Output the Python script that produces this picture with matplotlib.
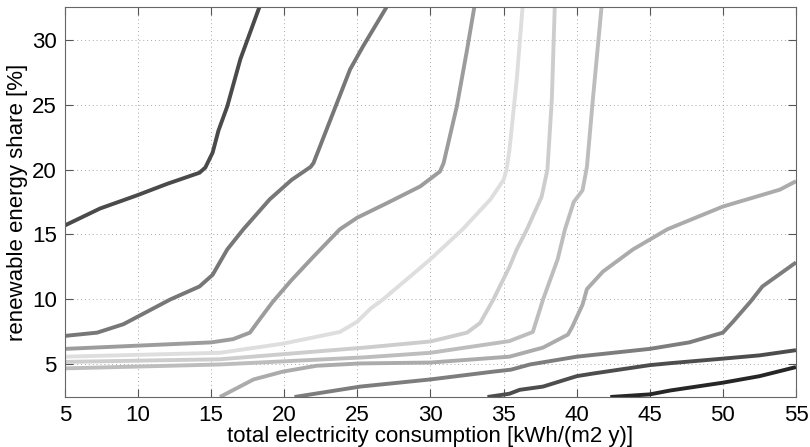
import matplotlib
matplotlib.use("Agg")
import matplotlib.pyplot as plt

plt.rcParams['font.family'] = ['Liberation Sans', 'DejaVu Sans']

# contour lines (x: kWh/(m2 y), y: %)
a_x = [5, 7.4, 9.9, 12, 14.2, 14.6, 15.1, 15.5, 16.1, 17.0, 18.3]
a_y = [15.7, 17.0, 18.0, 18.9, 19.75, 20.15, 21.3, 23.0, 24.85, 28.5, 32.5]

b_x = [5, 7.2, 9.0, 12.2, 14.2, 15.1, 16.1, 17.2, 19.0, 20.5, 21.8, 22.0, 24.5, 25.4, 27.0]
b_y = [7.2, 7.45, 8.1, 10.0, 11.0, 11.9, 13.85, 15.4, 17.7, 19.2, 20.2, 20.5, 27.7, 29.5, 32.5]

c_x = [5, 10, 15, 16.5, 17.65, 18.4, 19.2, 20.5, 22, 23.8, 25.0, 27, 29.3, 30.65, 30.9, 31.8, 32.5, 33.0]
c_y = [6.2, 6.45, 6.7, 6.95, 7.45, 8.6, 9.8, 11.5, 13.3, 15.4, 16.3, 17.4, 18.7, 19.85, 20.5, 24.85, 29.2, 32.5]

d1_x = [5, 15.6, 19.9, 23.8, 25.0, 25.9, 26.75, 30, 32.2, 34.1, 35.0, 35.2, 35.4, 35.9, 36.3]
d1_y = [5.6, 5.9, 6.6, 7.5, 8.3, 9.3, 10.0, 13.1, 15.4, 17.7, 19.2, 20.0, 21.5, 26.9, 32.5]

d2_x = [5, 15.6, 25.5, 30, 32.5, 33.4, 34.3, 35.4, 35.9, 36.6, 37.6, 38.0, 38.3, 38.5]
d2_y = [5.2, 5.4, 6.3, 6.77, 7.45, 8.2, 10.0, 12.5, 13.85, 15.4, 17.9, 20.0, 25.4, 32.5]

e_x = [5, 15.6, 25.5, 30, 35.4, 37.0, 37.7, 38.7, 39.2, 39.8, 40.4, 40.7, 41.1, 41.7]
e_y = [4.7, 5.0, 5.55, 5.9, 6.8, 7.5, 10.0, 13.1, 15.4, 17.5, 18.4, 20.2, 25.3, 32.5]

f_x = [15.6, 17.9, 19.9, 22.2, 25.2, 30, 35.4, 37.7, 39.4, 39.7, 40.4, 40.7, 41.8, 43.85, 46.2, 50, 53.9, 55]
f_y = [2.5, 3.85, 4.45, 4.9, 5.08, 5.15, 5.6, 6.3, 7.3, 7.9, 9.6, 10.8, 12.15, 13.85, 15.4, 17.15, 18.45, 19.1]

g_x = [20.7, 25.2, 30, 34.3, 35.5, 36.8, 40, 45, 47.7, 50, 50.7, 51.9, 52.7, 55]
g_y = [2.5, 3.3, 3.85, 4.45, 4.6, 5.0, 5.6, 6.2, 6.7, 7.45, 8.3, 9.85, 11.0, 12.85]

h_x = [33.9, 35.4, 36.1, 37.7, 40, 41.1, 45, 46.4, 50, 52.5, 55]
h_y = [2.5, 2.75, 3.05, 3.3, 4.1, 4.3, 4.95, 5.1, 5.45, 5.7, 6.1]

i_x = [42.3, 45, 46.4, 50, 52.5, 55]
i_y = [2.5, 2.7, 3.0, 3.6, 4.1, 4.8]

lines = [
    (a_x, a_y, '#4a4a4a'),
    (b_x, b_y, '#777777'),
    (c_x, c_y, '#9c9c9c'),
    (d1_x, d1_y, '#dedede'),
    (d2_x, d2_y, '#cdcdcd'),
    (e_x, e_y, '#bdbdbd'),
    (f_x, f_y, '#ababab'),
    (g_x, g_y, '#7d7d7d'),
    (h_x, h_y, '#4d4d4d'),
    (i_x, i_y, '#262626'),
]

fig = plt.figure(figsize=(8.1, 4.47), dpi=100)
ax = fig.add_axes([0.0802, 0.1119, 0.9025, 0.8724])

for xs, ys, col in lines:
    ax.plot(xs, ys, color=col, linewidth=2.8, solid_capstyle='butt')

ax.set_xlim(5, 55)
ax.set_ylim(2.5, 32.5)
ax.set_xticks(range(5, 56, 5))
ax.set_yticks(range(5, 31, 5))
ax.grid(True, linestyle=(0, (1, 3)), color='#a8a8a8', linewidth=0.7)
ax.tick_params(direction='in', length=6, top=True, right=True, labelsize=16,
               color='#555555', pad=6)
for s in ax.spines.values():
    s.set_color('#666666')
    s.set_linewidth(0.8)

ax.set_xlabel('total electricity consumption [kWh/(m2 y)]', fontsize=16, labelpad=0)
ax.set_ylabel('renewable energy share [%]', fontsize=16, labelpad=3)

fig.savefig('out.png', dpi=100)
